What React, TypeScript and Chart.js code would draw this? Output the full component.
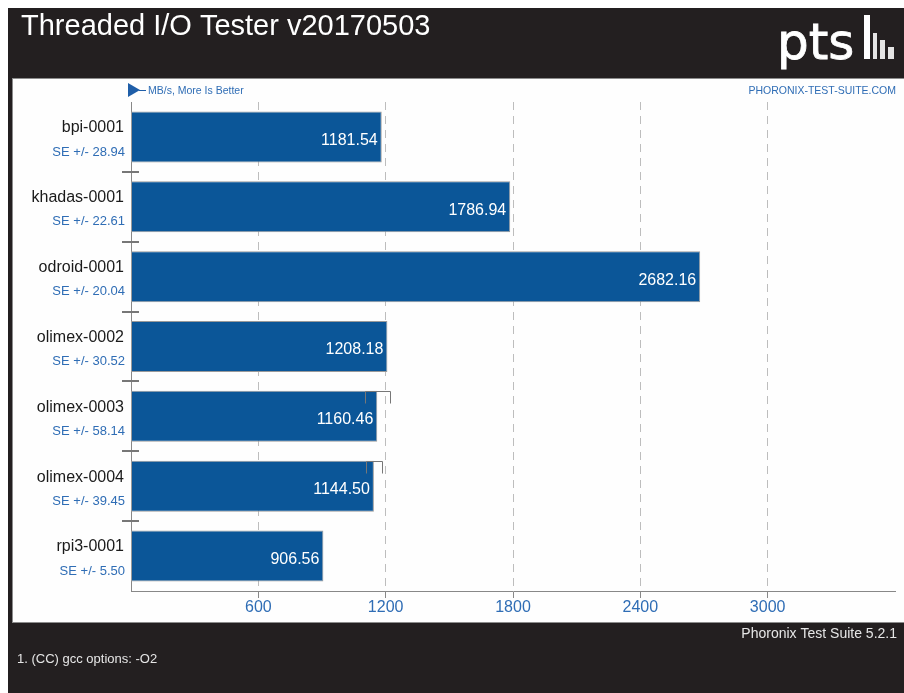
import React, { useEffect, useRef } from 'react';
import { Chart, registerables } from 'chart.js';

Chart.register(...registerables);

// ---- data ----
const chartTitle = 'Threaded I/O Tester v20170503';
const unitLabel = 'MB/s, More Is Better';
const siteLabel = 'PHORONIX-TEST-SUITE.COM';
const versionLabel = 'Phoronix Test Suite 5.2.1';
const footnote = '1. (CC) gcc options: -O2';
const categories = ['bpi-0001', 'khadas-0001', 'odroid-0001', 'olimex-0002', 'olimex-0003', 'olimex-0004', 'rpi3-0001'];
const values = [1181.54, 1786.94, 2682.16, 1208.18, 1160.46, 1144.5, 906.56];
const stdErrors = [28.94, 22.61, 20.04, 30.52, 58.14, 39.45, 5.5];
const xTicks = [600, 1200, 1800, 2400, 3000];
const xMax = 3600;

const W = 896;
const H = 685;
const FONT = '"Liberation Sans", Arial, Helvetica, sans-serif';
const BLUE_TEXT = '#2f6db5';

// page is exactly 904x693: 8px offset on top/left, chart fills the rest
if (typeof document !== 'undefined') {
  document.body.style.margin = '8px 0 0 8px';
}

const ptsPlugin = {
  id: 'ptsDecor',
  beforeDraw(chart: any) {
    const ctx = chart.ctx as CanvasRenderingContext2D;
    ctx.save();
    // dark frame
    ctx.fillStyle = '#231f20';
    ctx.fillRect(0, 0, W, H);
    // white panel
    ctx.fillStyle = '#fefefe';
    ctx.fillRect(4, 70, W - 4, 545);
    ctx.strokeStyle = '#8c8c8c';
    ctx.lineWidth = 1;
    ctx.strokeRect(4.5, 70.5, W + 4, 544);
    // title
    ctx.fillStyle = '#ffffff';
    ctx.font = `29px ${FONT}`;
    ctx.textBaseline = 'alphabetic';
    ctx.textAlign = 'left';
    ctx.fillText(chartTitle, 13, 27);
    // logo
    ctx.font = `50px "DejaVu Sans", sans-serif`;
    ctx.strokeStyle = '#ffffff';
    ctx.lineWidth = 0.8;
    ctx.fillText('pts', 769, 51);
    ctx.strokeText('pts', 769, 51);
    ctx.fillRect(856, 7, 6, 44);
    ctx.fillStyle = '#e4e4e4';
    ctx.fillRect(865, 25, 4, 26);
    ctx.fillRect(872, 32, 5, 19);
    ctx.fillRect(880, 39, 6, 12);
    // legend marker
    ctx.fillStyle = '#1f5ea8';
    ctx.beginPath();
    ctx.moveTo(120, 75);
    ctx.lineTo(120, 89);
    ctx.lineTo(132, 82);
    ctx.closePath();
    ctx.fill();
    ctx.strokeStyle = '#1f5ea8';
    ctx.lineWidth = 1;
    ctx.beginPath();
    ctx.moveTo(131, 82.5);
    ctx.lineTo(138, 82.5);
    ctx.stroke();
    ctx.fillStyle = BLUE_TEXT;
    ctx.font = `10.5px ${FONT}`;
    ctx.textBaseline = 'middle';
    ctx.fillText(unitLabel, 140, 83);
    ctx.textAlign = 'right';
    ctx.fillText(siteLabel, 888, 83);
    // footer
    ctx.fillStyle = '#e6e6e6';
    ctx.font = `14px ${FONT}`;
    ctx.fillText(versionLabel, 889, 626);
    ctx.textAlign = 'left';
    ctx.font = `13px ${FONT}`;
    ctx.fillText(footnote, 9, 651);
    ctx.restore();
  },
  afterDatasetsDraw(chart: any) {
    const ctx = chart.ctx as CanvasRenderingContext2D;
    const xs = chart.scales.x;
    const ys = chart.scales.y;
    const area = chart.chartArea;
    const meta = chart.getDatasetMeta(0);
    ctx.save();
    meta.data.forEach((bar: any, i: number) => {
      const v = values[i];
      const se = stdErrors[i];
      // error bracket
      if (se / v >= 0.03) {
        const xl = Math.round(xs.getPixelForValue(v - se)) + 0.5;
        const xr = Math.round(xs.getPixelForValue(v + se)) + 0.5;
        const top = Math.round(bar.y - bar.height / 2) + 0.5;
        ctx.strokeStyle = '#777777';
        ctx.lineWidth = 1;
        ctx.beginPath();
        ctx.moveTo(xl, top + 12);
        ctx.lineTo(xl, top);
        ctx.lineTo(xr, top);
        ctx.lineTo(xr, top + 12);
        ctx.stroke();
      }
      // value label
      ctx.fillStyle = '#ffffff';
      ctx.font = `16px ${FONT}`;
      ctx.textAlign = 'right';
      ctx.textBaseline = 'middle';
      ctx.fillText(v.toFixed(2), bar.x - 4, bar.y + 3.5);
      // category labels
      ctx.fillStyle = '#1a1a1a';
      ctx.font = `16px ${FONT}`;
      ctx.fillText(categories[i], area.left - 7, bar.y - 9);
      ctx.fillStyle = BLUE_TEXT;
      ctx.font = `13px ${FONT}`;
      ctx.fillText('SE +/- ' + se.toFixed(2), area.left - 6, bar.y + 15);
    });
    // boundary crosses on the category axis
    ctx.strokeStyle = '#777777';
    ctx.lineWidth = 2;
    for (let i = 0; i < categories.length - 1; i++) {
      const yb = Math.round((ys.getPixelForValue(i) + ys.getPixelForValue(i + 1)) / 2);
      ctx.beginPath();
      ctx.moveTo(area.left - 9, yb);
      ctx.lineTo(area.left + 8, yb);
      ctx.stroke();
    }
    ctx.restore();
  },
};

export default function App() {
  const ref = useRef<HTMLCanvasElement>(null);
  useEffect(() => {
    document.body.style.margin = '8px 0 0 8px';
    const chart = new Chart(ref.current as HTMLCanvasElement, {
      type: 'bar',
      data: {
        labels: categories,
        datasets: [
          {
            data: values,
            backgroundColor: '#0b5698',
            borderColor: '#9a9a9a',
            borderWidth: 1,
            borderSkipped: false,
            barPercentage: 0.73,
            categoryPercentage: 1,
          },
        ],
      },
      options: {
        indexAxis: 'y',
        responsive: false,
        animation: false,
        devicePixelRatio: 1,
        layout: { padding: { left: 123, right: 9, top: 94, bottom: 72 } },
        plugins: {
          legend: { display: false },
          tooltip: { enabled: false },
        },
        scales: {
          x: {
            min: 0,
            max: xMax,
            position: 'bottom',
            afterBuildTicks: (s: any) => {
              s.ticks = xTicks.map((v) => ({ value: v }));
            },
            afterFit: (s: any) => {
              s.height = 30;
            },
            grid: {
              color: '#bdbdbd',
              lineWidth: 1,
              drawTicks: true,
              tickLength: 7,
              tickColor: '#888888',
            },
            border: { display: true, color: '#888888', width: 1, dash: [8, 6] },
            ticks: {
              color: BLUE_TEXT,
              font: { family: FONT, size: 16 },
              padding: 0,
              maxRotation: 0,
              autoSkip: false,
              callback: (v: any) => String(v),
            },
          },
          y: {
            type: 'category',
            afterFit: (s: any) => {
              s.width = 0;
            },
            grid: { display: false },
            border: { display: true, color: '#888888', width: 1 },
            ticks: { display: false },
          },
        },
      },
      plugins: [ptsPlugin],
    } as any);
    return () => chart.destroy();
  }, []);
  return (
    <div style={{ width: W, height: H }}>
      <canvas ref={ref} width={W} height={H} style={{ display: 'block', width: W, height: H }} />
    </div>
  );
}
